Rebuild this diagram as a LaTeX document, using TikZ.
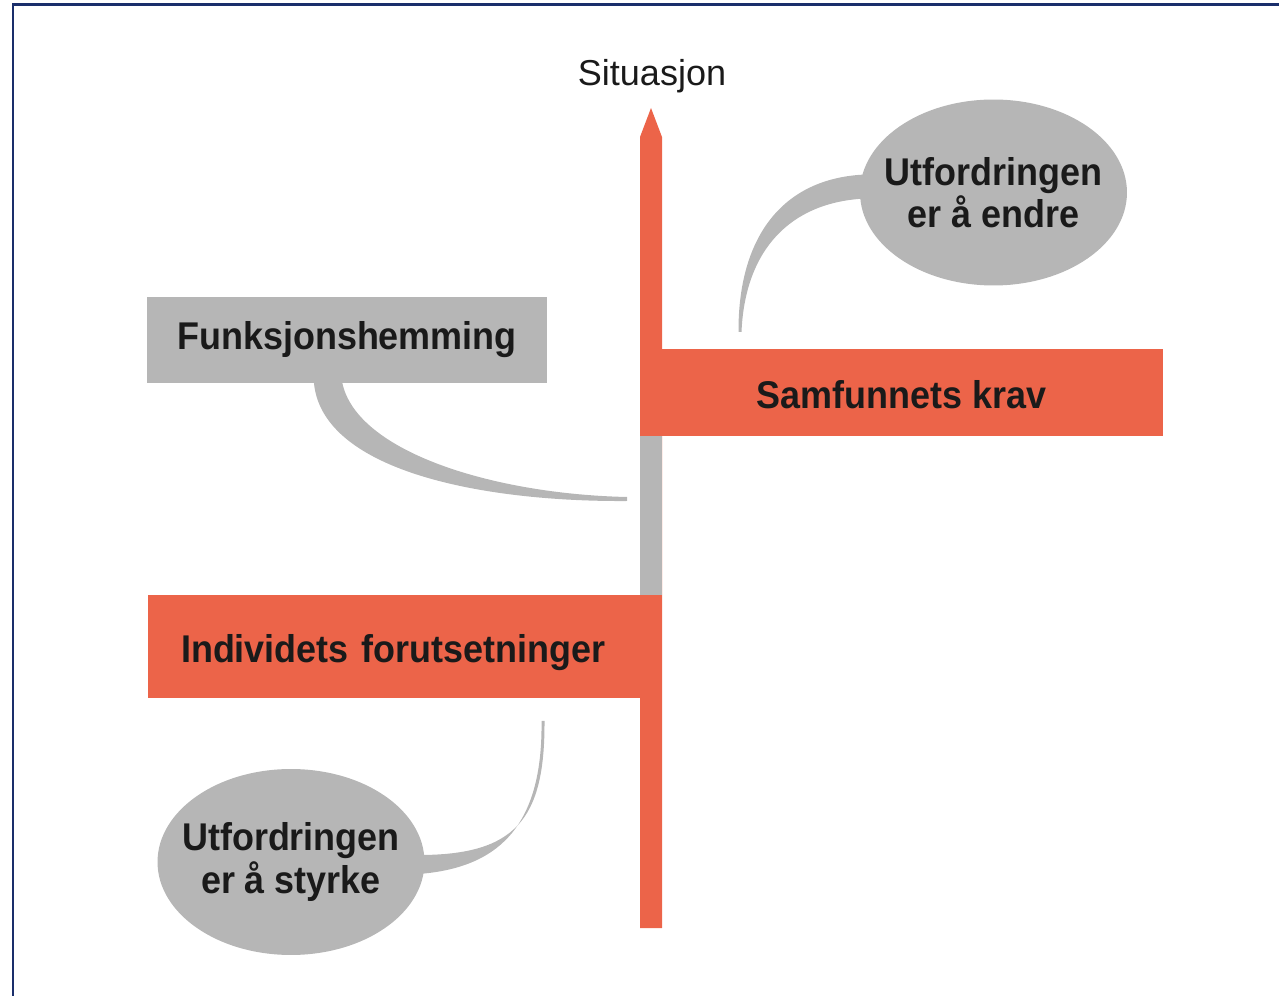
\documentclass[tikz,border=0pt]{standalone}
\usepackage{fontspec}
\usepackage{tikz}
\usetikzlibrary{shapes,shapes.geometric,positioning,calc}
\newfontfamily\lblfont[FakeStretch=0.93]{Liberation Sans}
\newfontfamily\sitfont{Liberation Sans}
\definecolor{kravred}{HTML}{EC6449}
\definecolor{hemgray}{HTML}{B6B6B6}
\definecolor{frameblue}{HTML}{1A2E6B}
\definecolor{txtdark}{HTML}{1A1A1A}

\begin{document}
\begin{tikzpicture}[x=0.02cm, y=-0.02cm]
  % styles
  \tikzstyle{redbox}=[rectangle, fill=kravred, inner sep=0pt, text height=20pt, text depth=2pt, text=txtdark, font=\lblfont\bfseries\fontsize{22}{24}\selectfont];
  \tikzstyle{graybox}=[rectangle, fill=hemgray, inner sep=0pt, text=txtdark, font=\lblfont\bfseries\fontsize{22}{24}\selectfont];
  \tikzstyle{bubble}=[ellipse, fill=hemgray, inner xsep=-10pt, inner ysep=0pt, minimum width=5.34cm, minimum height=3.72cm, align=center, text=txtdark, font=\lblfont\bfseries\fontsize{22}{24}\selectfont];
  \tikzstyle{tail}=[fill=hemgray];

  \useasboundingbox (0,0) rectangle (1279,996);
  % frame (only top and left edge visible)
  \draw[frameblue, line width=0.055cm] (13,996) -- (13,4.5) -- (1279,4.5);

  %==================== AXIS ====================
  \coordinate (axisTop) at (651,108);
  \coordinate (axisBot) at (651,928);
  \fill[kravred] ($(axisBot)+(-11,0)$) -- ($(axisTop)+(-11,29)$) -- (axisTop) -- ($(axisTop)+(11,29)$) -- ($(axisBot)+(11,0)$) -- cycle;
  \node[font=\sitfont\fontsize{20.5}{24}\selectfont, text=txtdark] (sit) at (652,76) {Situasjon};

  %==================== BARS ====================
  \node[redbox, minimum width=10.46cm, minimum height=1.74cm] (krav) at (901.5,392.5) {Samfunnets krav};
  \node[redbox, minimum height=2.06cm, text width=8.96cm, inner xsep=0.66cm, align=left] (indiv) at (405,646.5) {Individets forutsetninger};
  % grey part of the axis between the two bars
  \fill[hemgray] (krav.south west) rectangle (indiv.north east);

  \node[graybox, minimum width=8cm, minimum height=1.72cm] (fh) at (347,340) {Funksjonshemming};

  %==================== CALLOUTS ====================
  \node[bubble] (utfA) at (993.5,192.5) {Utfordringen\\er å endre};
  \node[bubble] (utfB) at (291,862) {Utfordringen\\er å styrke};

  % tails
  \coordinate (tipFh) at (627,499);
  \coordinate (tipA) at (740,332);
  \coordinate (tipB) at (543,721);
  \fill[tail] ($(fh.south west)+(167,-4)$) .. controls (318,470) and (480,502) .. ($(tipFh)+(0,2)$)
    -- ($(tipFh)+(0,-2)$) .. controls (490,494) and (352,450) .. ($(fh.south west)+(195,-4)$) -- cycle;
  \fill[tail] ($(utfA.west)+(6,-18)$) .. controls (780,178) and (738,240) .. ($(tipA)+(-1.5,0)$)
    -- ($(tipA)+(1.5,0)$) .. controls (745,250) and (790,202) .. ($(utfA.west)+(6,6)$) -- cycle;
  \fill[tail] ($(utfB.east)+(-6,-7)$) .. controls (515,855) and (545,820) .. ($(tipB)+(1.5,0)$)
    -- ($(tipB)+(-1.5,0)$) .. controls (543,830) and (495,868) .. ($(utfB.east)+(-6,12)$) -- cycle;
\end{tikzpicture}
\end{document}
